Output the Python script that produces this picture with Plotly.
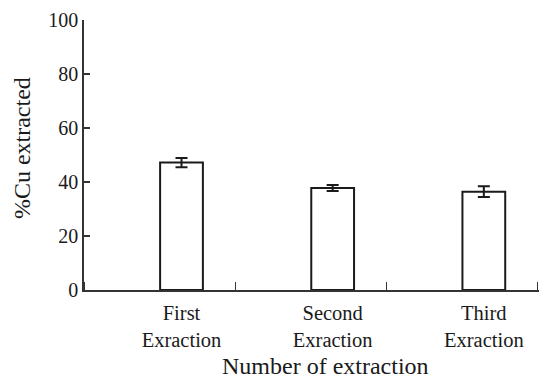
import plotly.graph_objects as go

categories = ["First<br>Exraction", "Second<br>Exraction", "Third<br>Exraction"]
cu_extracted = [47.2, 37.8, 36.4]
cu_error = [1.7, 1.1, 2.0]
y_ticks = [0, 20, 40, 60, 80, 100]

offset = 0.645
xpos = [i + offset for i in range(len(categories))]

FONT = "Liberation Serif"
INK = "#1a1a1a"

fig = go.Figure()
fig.add_trace(go.Bar(
    x=xpos, y=cu_extracted, width=0.283,
    marker=dict(color="white", line=dict(color=INK, width=2)),
    error_y=dict(type="data", array=cu_error, visible=True, color=INK, thickness=2, width=6),
    showlegend=False,
))

fig.update_layout(
    width=539, height=378,
    margin=dict(l=84, r=0, t=20, b=88),
    paper_bgcolor="white", plot_bgcolor="white",
    font=dict(family=FONT, color=INK, size=20),
    xaxis=dict(
        range=[0, 3.01], showgrid=False, zeroline=False,
        showline=True, linecolor="#333", linewidth=1.5,
        tickvals=xpos, ticktext=categories, ticks="",
        tickfont=dict(size=20.5, family=FONT, color=INK),
        ticklabelstandoff=4,
        minor=dict(tick0=0, dtick=1, ticks="inside", ticklen=8, tickcolor="#333", tickwidth=1.3),
    ),
    yaxis=dict(
        range=[0, 100], showgrid=False, zeroline=False,
        showline=True, linecolor="#333", linewidth=1.5,
        tickvals=y_ticks, ticks="inside", ticklen=6, tickcolor="#333", tickwidth=1.5,
        tickfont=dict(size=20, family=FONT, color=INK),
    ),
    annotations=[
        dict(text="Number of extraction", xref="paper", yref="paper", x=0.53, y=-0.283,
             xanchor="center", yanchor="middle", showarrow=False,
             font=dict(size=24, family=FONT, color=INK)),
        dict(text="%Cu extracted", xref="paper", yref="paper", x=-0.136, y=0.526,
             xanchor="center", yanchor="middle", showarrow=False, textangle=-90,
             font=dict(size=24, family=FONT, color=INK)),
    ],
)

fig.write_html("out.html")
